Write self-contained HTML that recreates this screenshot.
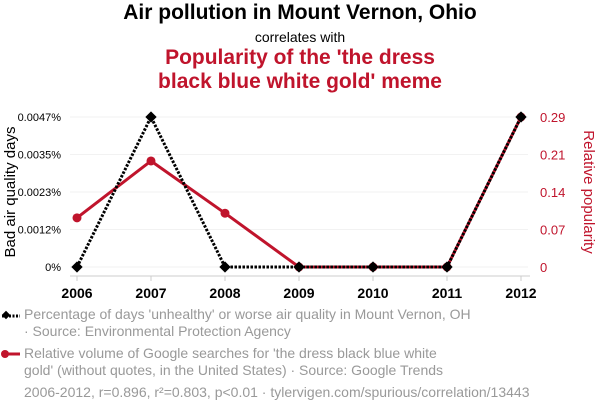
<!DOCTYPE html>
<html><head><meta charset="utf-8"><style>
body{margin:0;background:#fff;font-family:"Liberation Sans",sans-serif;}
#wrap{position:relative;width:600px;height:414px;overflow:hidden;}
.t{position:absolute;white-space:nowrap;}
.leg{position:absolute;left:24px;color:#999;font-size:14px;line-height:17px;}
</style></head><body>
<div id="wrap">
<div class="t" style="left:0;width:600px;text-align:center;top:1px;font-size:21px;font-weight:bold;color:#000;">Air pollution in Mount Vernon, Ohio</div>
<div class="t" style="left:0;width:600px;text-align:center;top:29px;font-size:14px;color:#000;">correlates with</div>
<div class="t" style="left:0;width:600px;text-align:center;top:46px;font-size:21px;line-height:24px;font-weight:bold;color:#c0142c;white-space:normal;">Popularity of the 'the dress<br>black blue white gold' meme</div>
<svg id="svg" width="600" height="300" style="position:absolute;left:0;top:0"></svg>
<svg style="position:absolute;left:0;top:305px" width="24" height="80">
<line x1="2" y1="11" x2="20" y2="11" stroke="#000" stroke-width="3" stroke-dasharray="2,1.5"/>
<rect x="3" y="7" width="6" height="6" transform="rotate(45 6 10)" fill="#000"/>
<line x1="2" y1="49" x2="20" y2="49" stroke="#c0142c" stroke-width="3"/>
<circle cx="5" cy="49" r="4" fill="#c0142c"/>
</svg>
<div class="leg" style="top:306px;">Percentage of days 'unhealthy' or worse air quality in Mount Vernon, OH<br>· Source: Environmental Protection Agency</div>
<div class="leg" style="top:345px;">Relative volume of Google searches for 'the dress black blue white<br>gold' (without quotes, in the United States) · Source: Google Trends</div>
<div class="leg" style="top:384px;">2006-2012, r=0.896, r²=0.803, p&lt;0.01 · tylervigen.com/spurious/correlation/13443</div>
</div>
<script>
const years=[2006,2007,2008,2009,2010,2011,2012];
const airValues=[0,0.0047,0,0,0,0,0.0047];
const memeValues=[0.095,0.205,0.104,0,0,0,0.29];
const leftTicks=["0%","0.0012%","0.0023%","0.0035%","0.0047%"];
const rightTicks=["0","0.07","0.14","0.21","0.29"];
const leftMax=0.0047, rightMax=0.29;
const NS="http://www.w3.org/2000/svg";
const svg=document.getElementById('svg');
const x0=77,x1=521,yb=267,yt=117;
const xs=i=>x0+(x1-x0)*i/(years.length-1);
const yl=v=>yb-(yb-yt)*v/leftMax;
const yr=v=>yb-(yb-yt)*v/rightMax;
function mk(tag,attrs,name){const e=document.createElementNS(NS,tag);for(const k in attrs)e.setAttribute(k,attrs[k]);


svg.appendChild(e);return e;}
leftTicks.forEach((t,i)=>{const y=yb-(yb-yt)*i/(leftTicks.length-1);
mk('line',{x1:70,x2:528,y1:y,y2:y,stroke:'#f2f2f2','stroke-width':1},'grid-line');
const a=mk('text',{x:61,y:y+4,'text-anchor':'end','font-size':11,fill:'#000'},'left-tick-label');a.textContent=t;
const b=mk('text',{x:540,y:y+5,'font-size':13,fill:'#c0142c'},'right-tick-label');b.textContent=rightTicks[i];});
mk('line',{x1:70,x2:530,y1:276,y2:276,stroke:'#ccc','stroke-width':1},'x-axis-line');
years.forEach((yv,i)=>{mk('line',{x1:xs(i),x2:xs(i),y1:276,y2:281,stroke:'#ccc'},'x-tick');
const t=mk('text',{x:xs(i),y:298,'text-anchor':'middle','font-size':14,'font-weight':'bold',fill:'#000'},'x-tick-label');t.textContent=yv;});
const yL=mk('text',{transform:'translate(15,192) rotate(-90)','text-anchor':'middle','font-size':15,fill:'#000'},'y-axis-title-left');yL.textContent='Bad air quality days';
const yR=mk('text',{transform:'translate(584,192) rotate(90)','text-anchor':'middle','font-size':15,fill:'#c0142c'},'y-axis-title-right');yR.textContent='Relative popularity';
mk('polyline',{points:memeValues.map((v,i)=>xs(i)+','+yr(v)).join(' '),fill:'none',stroke:'#c0142c','stroke-width':3},'meme-line');
memeValues.forEach((v,i)=>mk('circle',{cx:xs(i),cy:yr(v),r:4.5,fill:'#c0142c'},'meme-point'));
mk('polyline',{points:airValues.map((v,i)=>xs(i)+','+yl(v)).join(' '),fill:'none',stroke:'#000','stroke-width':3,'stroke-dasharray':'2.5,1.5'},'air-line');
airValues.forEach((v,i)=>mk('rect',{x:xs(i)-4,y:yl(v)-4,width:8,height:8,fill:'#000',transform:`rotate(45 ${xs(i)} ${yl(v)})`},'air-point'));
</script>
</body></html>
